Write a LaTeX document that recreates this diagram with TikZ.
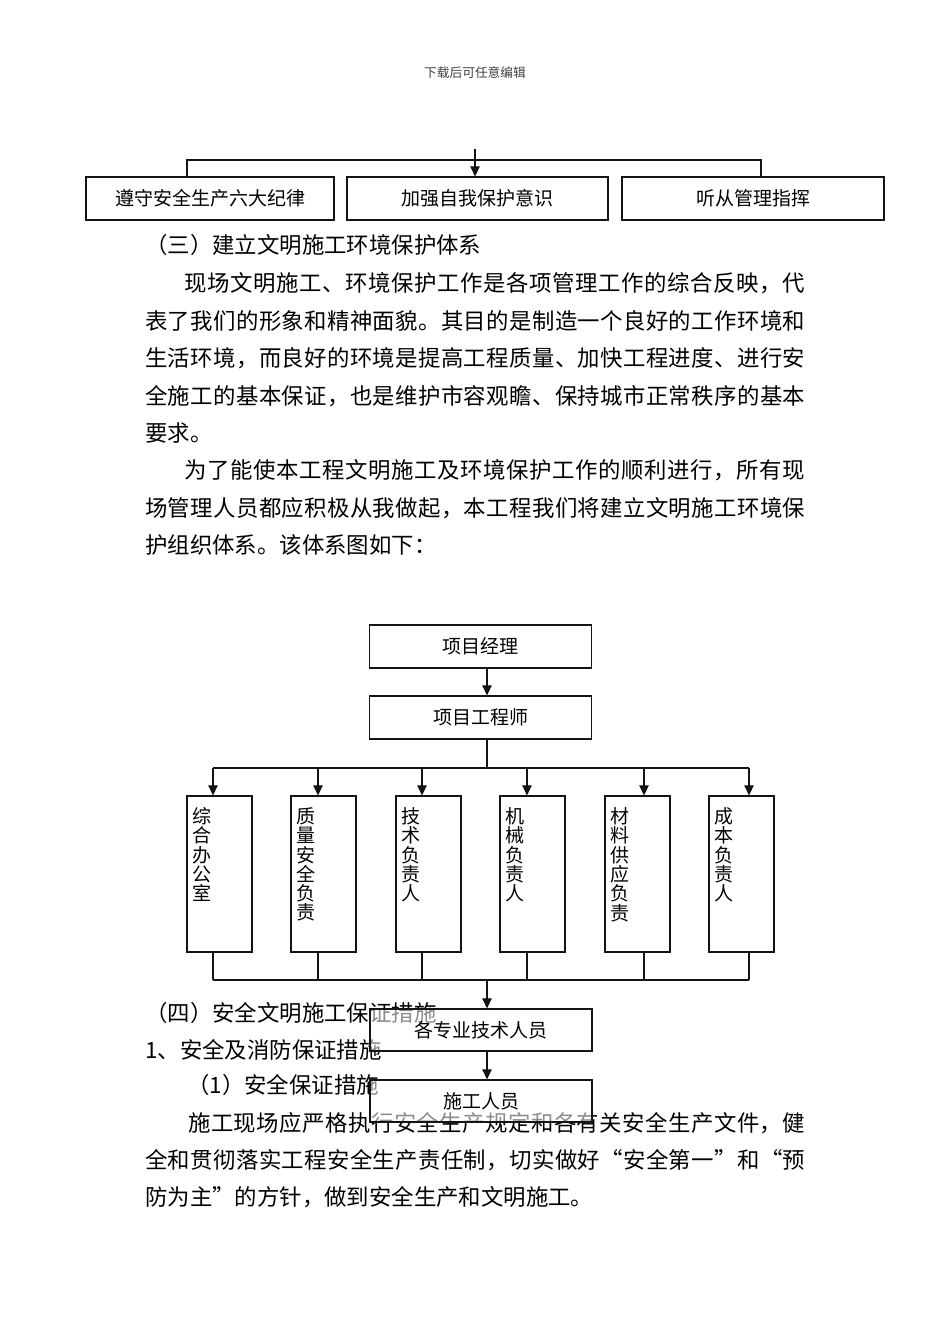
\documentclass[tikz,border=0pt]{standalone}
\usepackage{fontspec}
\setmainfont{Noto Sans CJK SC}
\usetikzlibrary{arrows.meta,positioning,calc}

% spread a line of characters over a given width (justified line)
\newcommand\spreadchars[1]{\spreadnext#1\relax}
\def\spreadnext#1{\ifx#1\relax\else#1\hfil\expandafter\spreadnext\fi}
\newcommand\jline[2]{\hbox to #1{\spreadchars{#2}\unskip}}

\begin{document}
\begin{tikzpicture}[x=1pt,y=-1pt,
    >={Triangle[length=10pt,width=9.5pt]},
    conn/.style={draw=boxline,line width=1.2pt},
    hbox/.style={draw=boxline,line width=1.3pt,fill=white,fill opacity=0.55,text opacity=1,minimum height=43pt,inner sep=0pt,font=\fontsize{19}{22}\selectfont},
    vbox/.style={draw=boxline,line width=1.3pt,minimum width=65pt,minimum height=156pt,inner sep=0pt},
    vtxt/.style={anchor=north,align=center,inner sep=0pt,font=\fontsize{19}{19.3}\selectfont},
    body/.style={anchor=base west,inner sep=0pt,font=\fontsize{22.4}{27}\selectfont},
    hdr/.style={inner sep=0pt,text=black!75,font=\fontsize{12.7}{15}\selectfont},
]
\definecolor{boxline}{RGB}{20,20,20}

\fill[white] (0,0) rectangle (950,1344);
\useasboundingbox (0,0) rectangle (950,1344);

% ================= page header =================
\node[hdr] (head) at (475,73) {下载后可任意编辑};

% ================= tail of the previous chart =================
\node[hbox,minimum width=248pt] (b1) at (210,198.5) {\raisebox{3pt}{遵守安全生产六大纪律}};
\node[hbox,minimum width=261pt] (b2) at (477.5,198.5) {\raisebox{3pt}{加强自我保护意识}};
\node[hbox,minimum width=262pt] (b3) at (753,198.5) {\raisebox{3pt}{听从管理指挥}};

\coordinate (topin) at (475,149);
\coordinate (hl) at (187,160);
\coordinate (hr) at (761,160);
\draw[conn,->] (topin) -- (topin |- b2.north);
\draw[conn] (hl |- b1.north) -- (hl) -- (hr) -- (hr |- b3.north);

% ================= running text =================
\node[body] (p0) at (145,253) {（三）建立文明施工环境保护体系};
\node[body] (p1) at (184,291) {\jline{621pt}{现场文明施工、环境保护工作是各项管理工作的综合反映，代}};
\node[body] (p2) at (145,329) {\jline{660pt}{表了我们的形象和精神面貌。其目的是制造一个良好的工作环境和}};
\node[body] (p3) at (145,366) {\jline{660pt}{生活环境，而良好的环境是提高工程质量、加快工程进度、进行安}};
\node[body] (p4) at (145,404) {\jline{660pt}{全施工的基本保证，也是维护市容观瞻、保持城市正常秩序的基本}};
\node[body] (p5) at (145,441) {要求。};
\node[body] (p6) at (184,478) {\jline{621pt}{为了能使本工程文明施工及环境保护工作的顺利进行，所有现}};
\node[body] (p7) at (145,516) {\jline{660pt}{场管理人员都应积极从我做起，本工程我们将建立文明施工环境保}};
\node[body] (p8) at (145,553) {护组织体系。该体系图如下：};

\node[body] (q0) at (145,1021) {（四）安全文明施工保证措施};
\node[body] (q1) at (145,1058) {1、安全及消防保证措施};
\node[body] (q2) at (187,1093) {（1）安全保证措施};
\node[body] (q3) at (188,1131) {\jline{617pt}{施工现场应严格执行安全生产规定和各有关安全生产文件，健}};
\node[body] (q4) at (145,1168) {\jline{660pt}{全和贯彻落实工程安全生产责任制，切实做好“安全第一”和“预}};
\node[body] (q5) at (145,1205) {防为主”的方针，做到安全生产和文明施工。};

% ================= organisation chart =================
\node[hbox,minimum width=222pt] (pm) at (480.5,646.5) {\raisebox{2pt}{项目经理}};
\node[hbox,minimum width=222pt] (pe) at (480.5,717.5) {\raisebox{2pt}{项目工程师}};
\draw[conn,->] ([xshift=6.5pt]pm.south) -- ([xshift=6.5pt]pe.north);

\coordinate (bus) at (487,768);
\coordinate (merge) at (487,980);
\draw[conn] (pe.south -| bus) -- (bus);

\foreach \n/\bx/\ax/\txt in {1/187/213/{综\\合\\办\\公\\室},
                              2/291/318/{质\\量\\安\\全\\负\\责},
                              3/396/422/{技\\术\\负\\责\\人},
                              4/500/527/{机\\械\\负\\责\\人},
                              5/605/644/{材\\料\\供\\应\\负\\责},
                              6/709/749/{成\\本\\负\\责\\人}}{
  \node[vbox] (d\n) at (\bx+32.5,874) {};
  \node[vtxt] (t\n) at ($(d\n.north west)+(15.5,12)$) {\txt};
  \coordinate (top\n) at (\ax,768);
  \coordinate (bot\n) at (\ax,980);
  \draw[conn,->] (top\n) -- (top\n |- d\n.north);
  \draw[conn] (bot\n |- d\n.south) -- (bot\n);
}
\draw[conn] (top1) -- (top6);
\draw[conn] (bot1) -- (bot6);

\node[hbox,minimum width=222pt,minimum height=42pt] (sp) at (481,1030) {\raisebox{2pt}{各专业技术人员}};
\node[hbox,minimum width=222pt,minimum height=42pt] (st) at (481,1101) {\raisebox{2pt}{施工人员}};
\draw[conn,->] (merge) -- (merge |- sp.north);
\draw[conn,->] (sp.south -| merge) -- (st.north -| merge);

\end{tikzpicture}
\end{document}
